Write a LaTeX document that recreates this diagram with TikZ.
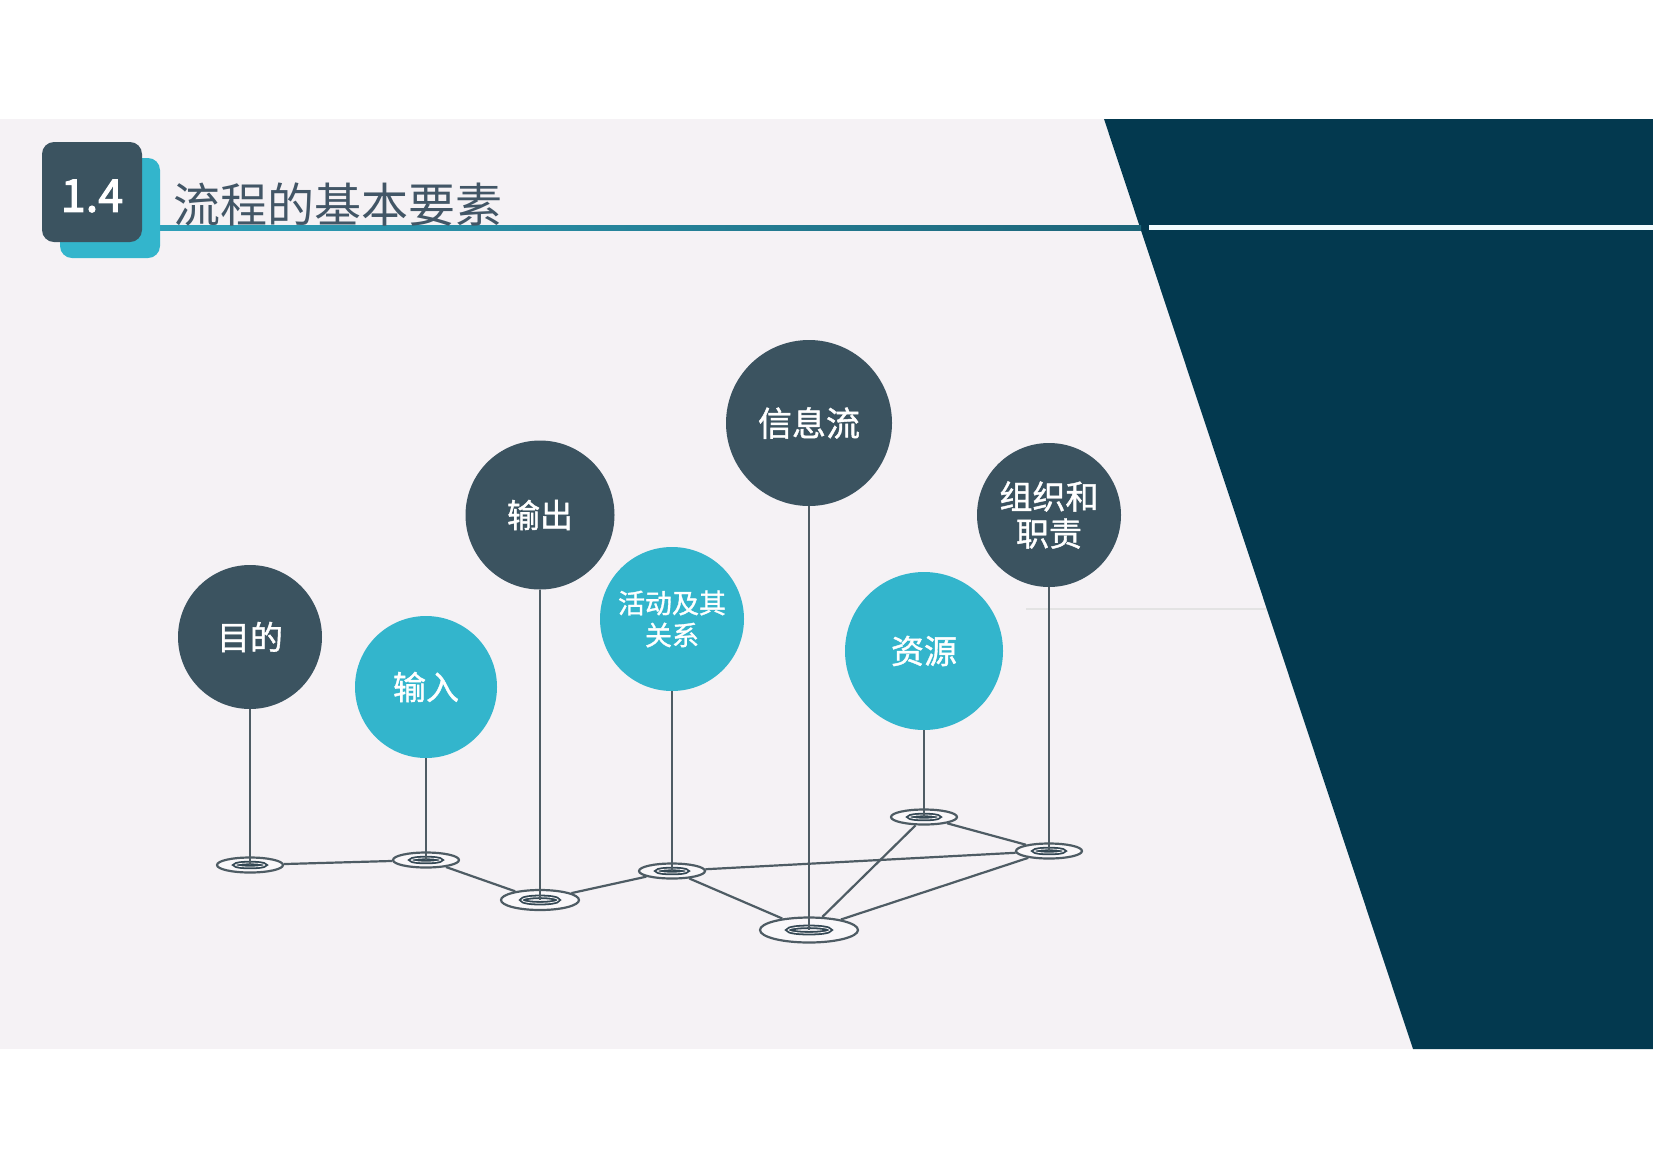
\documentclass[tikz,border=0pt]{standalone}
\usepackage{fontspec}
\newfontfamily\cjk{Noto Sans CJK SC}
\newfontfamily\cjkheavy[FakeBold=1.2]{Noto Sans CJK SC}
\newfontfamily\numfont[FakeBold=2.5]{Noto Sans CJK SC}
\usepackage{tikz}
\usetikzlibrary{
	shapes.geometric,
}
\definecolor{paper}{RGB}{245,242,245}
\definecolor{navy}{RGB}{3,57,79}
\definecolor{slate}{RGB}{59,83,96}
\definecolor{aqua}{RGB}{51,181,204}
\definecolor{wirecol}{RGB}{78,92,100}
\definecolor{eyecol}{RGB}{52,72,84}
\definecolor{headline}{RGB}{66,86,102}
\definecolor{lineleft}{RGB}{46,160,185}
\definecolor{lineright}{RGB}{28,100,120}
\tikzset{ball/.style={circle,inner sep=0pt,draw=none,text=white,align=center,font=\cjkheavy\fontsize{16.5}{18}\selectfont}}
\tikzset{dark ball/.style={ball,fill=slate}}
\tikzset{light ball/.style={ball,fill=aqua}}
\tikzset{ring/.style={ellipse,draw=wirecol,line width=1.1pt,fill=white!50!paper,inner sep=0pt,minimum width=33pt,minimum height=7.5pt}}
\tikzset{big ring/.style={ring,minimum width=39pt,minimum height=10pt}}
\tikzset{hub ring/.style={ring,minimum width=49pt,minimum height=12.5pt}}
\tikzset{eye/.style={draw=eyecol,line width=0.9pt,double=white!30!paper,double distance=0.4pt}}
\tikzset{link/.style={draw=wirecol,line width=1.1pt}}
\tikzset{badge/.style={rectangle,rounded corners=6pt,minimum size=50pt,inner sep=0pt}}

\begin{document}
\begin{tikzpicture}[x=0.5pt,y=-0.5pt]
\useasboundingbox (0,0) rectangle (1653,1168);
\fill[white] (0,0) rectangle (1653,1168);
\fill[paper] (0,119) rectangle (1653,1049);
\draw[gray!22,line width=0.6pt] (1026,609) -- (1267,609);
\fill[navy] (1104,119) -- (1653,119) -- (1653,1049) -- (1413,1049) -- cycle;

% heading
\shade[left color=lineleft,right color=lineright] (160,225) rectangle (1141,230);
\fill[white!95!cyan] (1149,225) rectangle (1653,230);
\node[badge,fill=aqua] (shadow) at (110,208) {};
\node[badge,fill=slate,text=white,text height=20pt,font=\numfont\fontsize{22.5}{24}\selectfont] (num) at (92,192) {1.4};
\node[anchor=base west,inner sep=0pt,text=headline,font=\cjk\fontsize{23.5}{26}\selectfont] (heading) at (173,222) {流程的基本要素};

% elements
\node[dark ball,minimum size=72pt] (goal) at (250,637) {目的};
\node[light ball,minimum size=71pt] (input) at (426,687) {输入};
\node[dark ball,minimum size=74.5pt] (output) at (540,515) {输出};
\node[light ball,minimum size=72pt,font=\cjkheavy\fontsize{13.5}{16}\selectfont] (activity) at (672,619) {活动及其\\关系};
\node[dark ball,minimum size=83pt,font=\cjkheavy\fontsize{17}{19}\selectfont] (info) at (809,423) {信息流};
\node[light ball,minimum size=79pt] (resource) at (924,651) {资源};
\node[dark ball,minimum size=72pt,font=\cjkheavy\fontsize{16.5}{18.5}\selectfont] (duty) at (1049,515) {组织和\\职责};

% base rings
\node[ring] (r-goal) at (250,865) {};
\node[ring] (r-input) at (426,860) {};
\node[big ring] (r-output) at (540,900) {};
\node[ring] (r-activity) at (672,871) {};
\node[hub ring] (r-info) at (809,930) {};
\node[ring] (r-resource) at (924,817) {};
\node[ring] (r-duty) at (1049,851) {};

\draw[link] (r-goal) -- (r-input) -- (r-output) -- (r-activity) -- (r-info) -- (r-resource) -- (r-duty) -- (r-info);
\draw[link] (r-activity) -- (r-duty);

\foreach \r/\a/\b in {goal/7.4/1.0,input/7.4/1.0,output/9.1/1.6,activity/7.4/1.0,info/10.5/1.6,resource/7.4/1.0,duty/7.4/1.0}
	\draw[eye] (r-\r.center) ellipse (\a pt and \b pt);

\foreach \n in {goal,input,output,activity,info,resource,duty}
	\draw[link] (\n) -- (r-\n.center);

\end{tikzpicture}
\end{document}
